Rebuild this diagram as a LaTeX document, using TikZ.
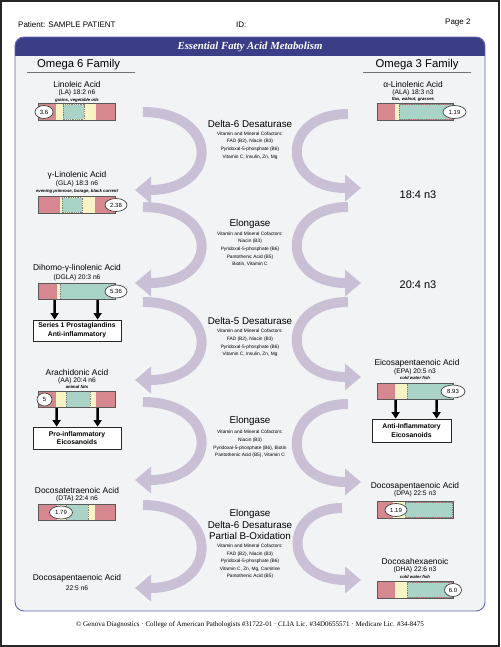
\documentclass[tikz,border=0pt]{standalone}
\usepackage{fontspec}
\setmainfont{Liberation Sans}
\newfontfamily\serifface{Liberation Serif}
\usetikzlibrary{arrows.meta,shapes.geometric}
\definecolor{panelc}{RGB}{242,243,245}
\definecolor{panelb}{RGB}{100,100,175}
\definecolor{headc}{RGB}{59,62,135}
\definecolor{arcc}{RGB}{201,192,214}
\definecolor{redc}{RGB}{213,136,144}
\definecolor{yelc}{RGB}{248,243,196}
\definecolor{grnc}{RGB}{170,211,200}
\begin{document}
\begin{tikzpicture}[x=1pt,y=-1pt,
  fam/.style={inner sep=0pt, font=\fontsize{11.3}{13}\selectfont},
  acid/.style={inner sep=0pt, font=\fontsize{8.4}{10}\selectfont},
  formula/.style={inner sep=0pt, font=\fontsize{6.7}{8}\selectfont},
  src/.style={inner sep=0pt, font=\bfseries\itshape\fontsize{4.3}{5}\selectfont},
  enz/.style={inner sep=0pt, align=center, font=\fontsize{9.8}{11.7}\selectfont},
  cof/.style={inner sep=0pt, align=center, font=\fontsize{4.8}{7.6}\selectfont},
  bigtxt/.style={inner sep=0pt, font=\fontsize{11}{13}\selectfont},
  outbox/.style={draw=black!85, fill=white, line width=0.8, minimum width=88pt, minimum height=21pt, inner sep=0pt, align=center, font=\bfseries\fontsize{6.8}{8.6}\selectfont},
  val/.style={ellipse, draw=black!75, fill=white, line width=0.7, inner sep=0pt, minimum height=13pt, font=\fontsize{6}{7}\selectfont},
  barbox/.style={draw=black!65, line width=0.9, minimum width=77pt, minimum height=16.5pt, inner sep=0pt},
  grnseg/.style={fill=grnc, draw=black!50, dash pattern=on 1pt off 0.8pt, line width=0.5},
  flow/.style={draw=arcc, line width=10pt, -{Triangle[width=26pt,length=16pt]}},
  blk/.style={draw=black, line width=2.6pt, -{Triangle[width=8pt,length=6.5pt]}}
]
\useasboundingbox (0,0) rectangle (500,647);
\fill[white] (0,0) rectangle (500,647);
\draw[black!85, line width=1.6pt] (0.8,0.8) rectangle (499.2,646.2);

% top line
\node[inner sep=0pt, anchor=west, font=\fontsize{8}{9}\selectfont] (pat) at (18,24.5) {Patient: SAMPLE PATIENT};
\node[inner sep=0pt, anchor=west, font=\fontsize{8}{9}\selectfont] (pid) at (236,24.5) {ID:};
\node[inner sep=0pt, anchor=west, font=\fontsize{8}{9}\selectfont] (pg) at (445,22.5) {Page 2};

% panel
\fill[panelc, rounded corners=9pt] (15,37) rectangle (485,611);
\begin{scope}
\clip[rounded corners=9pt] (15,37) rectangle (485,611);
\fill[headc] (15,37) rectangle (485,56);
\end{scope}
\draw[panelb, line width=0.9pt, rounded corners=9pt] (15,37) rectangle (485,611);
\node[inner sep=0pt, text=white, font=\serifface\bfseries\itshape\fontsize{10.8}{12}\selectfont] (title) at (250,46.5) {Essential Fatty Acid Metabolism};

% family headers
\node[fam] (o6) at (78.5,65) {Omega 6 Family};
\node[fam] (o3) at (417,65) {Omega 3 Family};
\draw[black!55, line width=0.6pt] (27,72.5) -- (135,72.5);
\draw[black!55, line width=0.6pt] (363,72.5) -- (471,72.5);

% ---------- flow arcs ----------
\coordinate (l1a) at (143,112); \coordinate (l1b) at (135,190);
\coordinate (l2a) at (143,207); \coordinate (l2b) at (135,283);
\coordinate (l3a) at (143,302); \coordinate (l3b) at (135,380);
\coordinate (l4a) at (143,402); \coordinate (l4b) at (135,480);
\coordinate (l5a) at (143,505); \coordinate (l5b) at (135,588);
\coordinate (r1a) at (348,114); \coordinate (r1b) at (361,188);
\coordinate (r2a) at (348,207); \coordinate (r2b) at (361,283);
\coordinate (r3a) at (348,302); \coordinate (r3b) at (361,377);
\coordinate (r4a) at (348,404); \coordinate (r4b) at (361,482);
\coordinate (r5a) at (342,508); \coordinate (r5b) at (361,580);
\draw[flow] (l1a) .. controls (220,112) and (220,190) .. (l1b);
\draw[flow] (l2a) .. controls (220,207) and (220,283) .. (l2b);
\draw[flow] (l3a) .. controls (220,302) and (220,380) .. (l3b);
\draw[flow] (l4a) .. controls (220,402) and (220,480) .. (l4b);
\draw[flow] (l5a) .. controls (220,505) and (220,588) .. (l5b);
\draw[flow] (r1a) .. controls (280,114) and (280,188) .. (r1b);
\draw[flow] (r2a) .. controls (280,207) and (280,283) .. (r2b);
\draw[flow] (r3a) .. controls (280,302) and (280,377) .. (r3b);
\draw[flow] (r4a) .. controls (280,404) and (280,482) .. (r4b);
\draw[flow] (r5a) .. controls (282,508) and (282,580) .. (r5b);

% ---------- enzymes ----------
\node[enz] (e1) at (250,124) {Delta-6 Desaturase};
\node[cof] (e1c) at (250,145.5) {Vitamin and Mineral Cofactors:\\FAD (B2), Niacin (B3)\\Pyridoxal-5-phosphate (B6)\\Vitamin C, Insulin, Zn, Mg};
\node[enz] (e2) at (250,224) {Elongase};
\node[cof] (e2c) at (250,249) {Vitamin and Mineral Cofactors:\\Niacin (B3)\\Pyridoxal-5-phosphate (B6)\\Pantothenic Acid (B5)\\Biotin, Vitamin C};
\node[enz] (e3) at (250,321) {Delta-5 Desaturase};
\node[cof] (e3c) at (250,343) {Vitamin and Mineral Cofactors:\\FAD (B2), Niacin (B3)\\Pyridoxal-5-phosphate (B6)\\Vitamin C, Insulin, Zn, Mg};
\node[enz] (e4) at (250,421) {Elongase};
\node[cof] (e4c) at (250,444) {Vitamin and Mineral Cofactors:\\Niacin (B3)\\Pyridoxal-5-phosphate (B6), Biotin\\Pantothenic Acid (B5), Vitamin C};
\node[enz] (e5) at (250,524.5) {Elongase\\Delta-6 Desaturase\\Partial B-Oxidation};
\node[cof] (e5c) at (250,561.5) {Vitamin and Mineral Cofactors:\\FAD (B2), Niacin (B3)\\Pyridoxal-5-phosphate (B6)\\Vitamin C, Zn, Mg, Carnitine\\Pantothenic Acid (B5)};

% ---------- Omega 6 column ----------
% LA
\node[acid] (la) at (77,84) {Linoleic Acid};
\node[formula] (laf) at (77,93) {(LA) 18:2 n6};
\node[src] (las) at (77,100) {grains, vegetable oils};
\fill[redc] (38,104) rectangle (115,120);
\fill[yelc] (56,104) rectangle (96,120);
\draw[grnseg] (63,104.6) rectangle (84,119.4);
\node[barbox] (labar) at (76.5,112) {};
\node[val, minimum width=18pt] (lav) at (44,112) {3.6};
% GLA
\node[acid] (gla) at (77,175) {γ-Linolenic Acid};
\node[formula] (glaf) at (77,184) {(GLA) 18:3 n6};
\node[src] (glas) at (77,191) {evening primrose, borage, black current};
\fill[redc] (38,197) rectangle (115,213);
\fill[yelc] (60,197) rectangle (95,213);
\draw[grnseg] (62,197.6) rectangle (82,212.4);
\node[barbox] (glabar) at (76.5,205) {};
\node[val, minimum width=22pt] (glav) at (116,205) {2.38};
% DGLA
\node[acid] (dgla) at (77,268) {Dihomo-γ-linolenic Acid};
\node[formula] (dglaf) at (77,278) {(DGLA) 20:3 n6};
\fill[redc] (38,283) rectangle (115,300);
\fill[yelc] (57,283) rectangle (60,300);
\draw[grnseg] (60,283.6) rectangle (114.6,299.4);
\node[barbox] (dglabar) at (76.5,291.5) {};
\node[val, minimum width=22pt] (dglav) at (116,291.5) {5.36};
\node[outbox] (s1box) at (77,330.5) {Series 1 Prostaglandins\\Anti-inflammatory};
\draw[blk] ([xshift=17pt]dglabar.south west) -- ([xshift=22pt]s1box.north west);
\draw[blk] ([xshift=60pt]dglabar.south west) -- ([xshift=65pt]s1box.north west);
% AA
\node[acid] (aa) at (77,372) {Arachidonic Acid};
\node[formula] (aaf) at (77,381) {(AA) 20:4 n6};
\node[src] (aas) at (77,387) {animal fats};
\fill[redc] (38,391) rectangle (115,408);
\fill[yelc] (56,391) rectangle (96,408);
\draw[grnseg] (66,391.6) rectangle (90,407.4);
\node[barbox] (aabar) at (76.5,399.5) {};
\node[val, minimum width=15pt] (aav) at (44.5,399.5) {5};
\node[outbox, minimum height=22pt] (probox) at (77,438) {Pro-inflammatory\\Eicosanoids};
\draw[blk] ([xshift=19pt]aabar.south west) -- ([xshift=24pt]probox.north west);
\draw[blk] ([xshift=60pt]aabar.south west) -- ([xshift=65pt]probox.north west);
% DTA
\node[acid] (dta) at (77,490) {Docosatetraenoic Acid};
\node[formula] (dtaf) at (77,499) {(DTA) 22:4 n6};
\fill[redc] (38,504) rectangle (115,521);
\fill[yelc] (57,504) rectangle (95,521);
\draw[grnseg] (66,504.6) rectangle (88,520.4);
\node[barbox] (dtabar) at (76.5,512.5) {};
\node[val, minimum width=23pt] (dtav) at (61,512.5) {1.79};
% DPA n6
\node[acid] (dpa6) at (77,578) {Docosapentaenoic Acid};
\node[formula] (dpa6f) at (77,588) {22:5 n6};

% ---------- Omega 3 column ----------
% ALA
\node[acid] (ala) at (413,84) {α-Linolenic Acid};
\node[formula] (alaf) at (413,93) {(ALA) 18:3 n3};
\node[src] (alas) at (413,99) {flax, walnut, grasses};
\fill[redc] (377,104) rectangle (453,120);
\fill[yelc] (395,104) rectangle (399,120);
\draw[grnseg] (399,104.6) rectangle (452.6,119.4);
\node[barbox, minimum width=76pt] (alabar) at (415,112) {};
\node[val, minimum width=23pt] (alav) at (454.5,112) {1.19};
% intermediates
\node[bigtxt] (sda) at (418,195) {18:4 n3};
\node[bigtxt] (eta) at (418,285) {20:4 n3};
% EPA
\node[acid] (epa) at (417,363) {Eicosapentaenoic Acid};
\node[formula] (epaf) at (415,372) {(EPA) 20:5 n3};
\node[src] (epas) at (415,378) {cold water fish};
\fill[redc] (377,383) rectangle (453,400);
\fill[yelc] (395,383) rectangle (407,400);
\draw[grnseg] (407,383.6) rectangle (452.6,399.4);
\node[barbox, minimum width=76pt] (epabar) at (415,391.5) {};
\node[val, minimum width=24pt] (epav) at (453,391.5) {8.93};
\node[outbox, minimum width=79pt, minimum height=23pt] (antibox) at (411.5,430.5) {Anti-Inflammatory\\Eicosanoids};
\draw[blk] ([xshift=19pt]epabar.south west) -- ([xshift=24pt]antibox.north west);
\draw[blk] ([xshift=60pt]epabar.south west) -- ([xshift=65pt]antibox.north west);
% DPA n3
\node[acid] (dpa3) at (415,486) {Docosapentaenoic Acid};
\node[formula] (dpa3f) at (415,494) {(DPA) 22:5 n3};
\fill[redc] (377,502) rectangle (453,518);
\fill[yelc] (393,502) rectangle (405,518);
\draw[grnseg] (405,502.6) rectangle (452.6,517.4);
\node[barbox, minimum width=76pt] (dpa3bar) at (415,510) {};
\node[val, minimum width=22pt] (dpa3v) at (396,510) {1.19};
% DHA
\node[acid] (dha) at (415,561) {Docosahexaenoic};
\node[formula] (dhaf) at (415,570) {(DHA) 22:6 n3};
\node[src] (dhas) at (415,577) {cold water fish};
\fill[redc] (377,582) rectangle (453,598);
\fill[yelc] (395,582) rectangle (407,598);
\draw[grnseg] (407,582.6) rectangle (452.6,597.4);
\node[barbox, minimum width=76pt] (dhabar) at (415,590) {};
\node[val, minimum width=17pt] (dhav) at (453,590) {6.0};

% footer
\node[inner sep=0pt, font=\serifface\fontsize{7}{8}\selectfont] (foot) at (250,625) {© Genova Diagnostics · College of American Pathologists \#31722-01 · CLIA Lic. \#34D0655571 · Medicare Lic. \#34-8475};
\end{tikzpicture}
\end{document}
